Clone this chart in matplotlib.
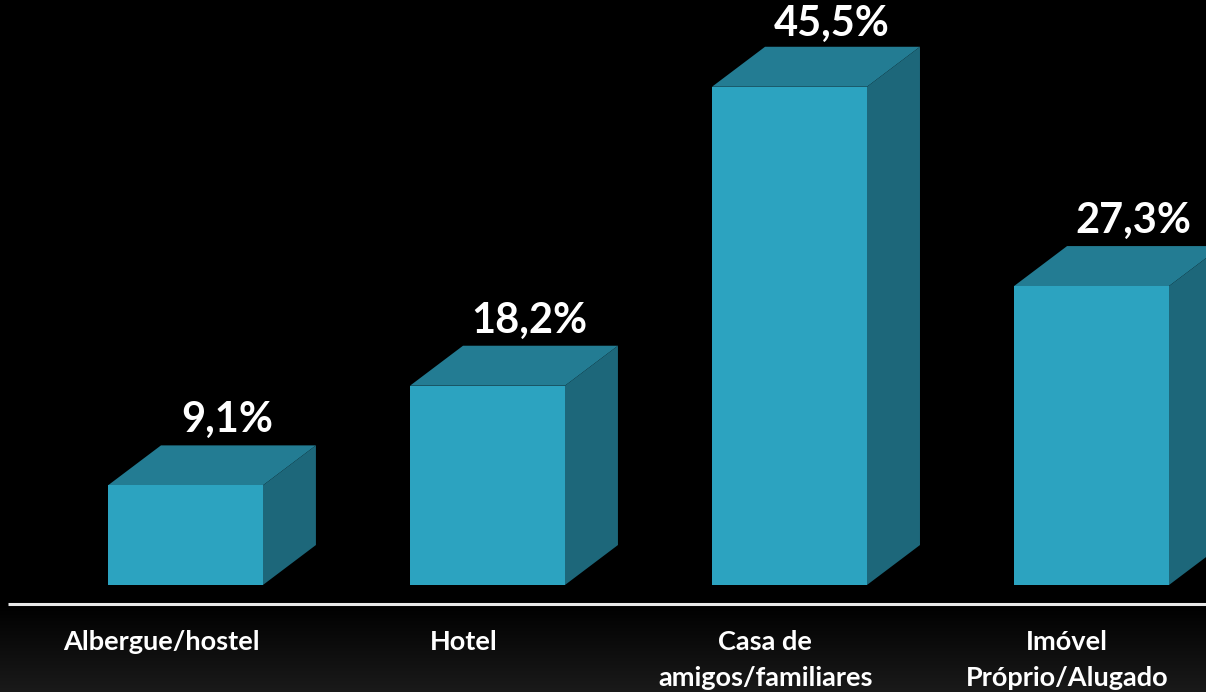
import numpy as np
import matplotlib.pyplot as plt
from matplotlib.patches import Polygon

# data
categories = ["Albergue/hostel", "Hotel", "Casa de\namigos/familiares", "Imóvel\nPróprio/Alugado"]
values = [9.1, 18.2, 45.5, 27.3]
value_labels = ["9,1%", "18,2%", "45,5%", "27,3%"]

front_color = "#2ca3c0"
top_color = "#237c93"
side_color = "#1d677a"

fig = plt.figure(figsize=(12.06, 6.92), dpi=100)
fig.patch.set_facecolor("black")
ax = fig.add_axes([0, 0, 1, 1])
ax.set_facecolor("black")

xlim = (-0.614, 3.379)
ylim = (-9.77, 53.42)
ax.set_xlim(*xlim)
ax.set_ylim(*ylim)
ax.axis("off")

width = 0.513
dx = 0.1755   # depth offset in x
dy = 3.65     # depth offset in y

# subtle gradient under the baseline
grad = np.linspace(0, 1, 100).reshape(-1, 1)
ax.imshow(grad, extent=(xlim[0], xlim[1], ylim[0], -1.74), aspect="auto",
          cmap=plt.matplotlib.colors.LinearSegmentedColormap.from_list("g", ["#1a1a1a", "#000000"]),
          origin="lower", zorder=0)

x = np.arange(len(categories))
bars = ax.bar(x, values, width=width, color=front_color, zorder=3)

for b, v in zip(bars, values):
    x0 = b.get_x()
    x1 = x0 + b.get_width()
    top = Polygon([(x0, v), (x1, v), (x1 + dx, v + dy), (x0 + dx, v + dy)],
                  closed=True, facecolor=top_color, edgecolor="none", zorder=2)
    side = Polygon([(x1, 0), (x1 + dx, dy), (x1 + dx, v + dy), (x1, v)],
                   closed=True, facecolor=side_color, edgecolor="none", zorder=2)
    ax.add_patch(top)
    ax.add_patch(side)

# baseline
ax.plot([xlim[0] + 0.026, xlim[1]], [-1.74, -1.74], color="#e8e8e8", lw=2.2, zorder=4,
        solid_capstyle="butt")

for xi, v, lab in zip(x, values, value_labels):
    ly = min(v + dy + 2.3, ylim[1] - 2.2)
    ax.text(xi + 0.14, ly, lab, ha="center", va="center", color="white",
            fontsize=30, fontweight="bold", family="Lato", zorder=5)

for xi, cat in zip(x, categories):
    ax.text(xi - 0.08, -4.1, cat, ha="center", va="top", color="white",
            fontsize=19.5, fontweight="bold", family="Lato", linespacing=1.62, zorder=5)

fig.savefig("out.png", dpi=100, facecolor=fig.get_facecolor())
